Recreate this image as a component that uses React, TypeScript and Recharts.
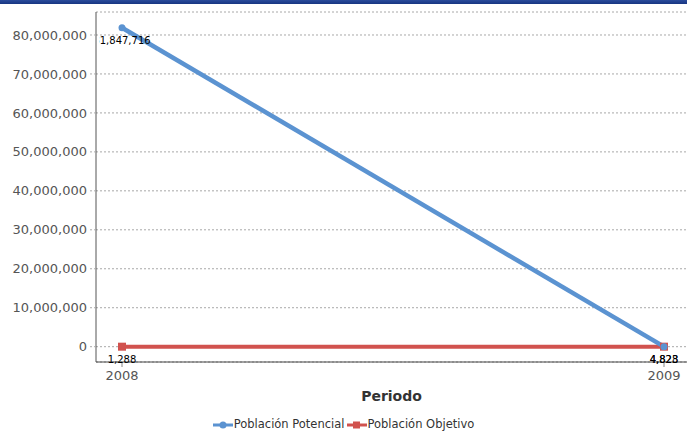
import { LineChart, Line, XAxis, YAxis, CartesianGrid, LabelList } from "recharts";

const periods = ["2008", "2009"];
const poblacionPotencial = [81847716, 4828];
const poblacionObjetivo = [1288, 4823];
const yTicks = [0, 10000000, 20000000, 30000000, 40000000, 50000000, 60000000, 70000000, 80000000];
const seriesNames = ["Población Potencial", "Población Objetivo"];
const seriesColors = ["#5b93d1", "#d1524e"];

const data = periods.map((p, i) => ({
  periodo: p,
  potencial: poblacionPotencial[i],
  objetivo: poblacionObjetivo[i],
}));

const W = 687;
const H = 437;
const PLOT_LEFT = 96;
const PLOT_TOP = 12;
const FONT = "DejaVu Sans, Verdana, sans-serif";

const fmt = (v: number) => v.toLocaleString("en-US");

// labels sit under the point and get clipped at the plot's left edge like the original
const makeLabel = (key: string) => (props: any) => {
  const { x, y, value, index } = props;
  const id = `clip-${key}-${index}`;
  return (
    <g>
      <defs>
        <clipPath id={id}>
          <rect x={PLOT_LEFT + 3} y={0} width={W} height={H} />
        </clipPath>
      </defs>
      <text
        x={x}
        y={y + 16}
        textAnchor="middle"
        fontSize={10}
        fill="#000"
        fontFamily={FONT}
        clipPath={`url(#${id})`}
      >
        {fmt(value)}
      </text>
    </g>
  );
};

const LegendIcon = ({ color, square }: { color: string; square: boolean }) => (
  <svg width={20} height={10} style={{ verticalAlign: "middle", marginRight: 1 }}>
    <line x1={0} y1={5} x2={20} y2={5} stroke={color} strokeWidth={3} />
    {square ? (
      <rect x={6} y={1.5} width={7} height={7} fill={color} />
    ) : (
      <circle cx={10} cy={5} r={3.5} fill={color} />
    )}
  </svg>
);

export default function App() {
  return (
    <div style={{ position: "absolute", left: 0, top: 0, width: W, height: H, background: "#fff", fontFamily: FONT }}>
      <div
        style={{
          position: "absolute",
          left: 0,
          top: 0,
          width: W,
          height: 4,
          background: "linear-gradient(#2b4c9c, #173582)",
        }}
      />
      <LineChart
        width={W}
        height={H}
        data={data}
        margin={{ top: PLOT_TOP, right: 0, left: 0, bottom: 0 }}
        style={{ position: "absolute", left: 0, top: 0 }}
      >
        <CartesianGrid vertical={false} stroke="#a8a8a8" strokeDasharray="2 2" />
        <XAxis
          dataKey="periodo"
          padding={{ left: 26, right: 23 }}
          height={75}
          tickSize={5}
          tickMargin={4}
          axisLine={{ stroke: "#444", strokeWidth: 1 }}
          tickLine={{ stroke: "#888" }}
          tick={{ fill: "#555", fontSize: 13, fontFamily: FONT }}
          label={{
            value: "Periodo",
            position: "insideTop",
            offset: 29,
            fill: "#333",
            fontSize: 14,
            fontWeight: "bold",
            fontFamily: FONT,
          }}
        />
        <XAxis
          xAxisId="top"
          dataKey="periodo"
          orientation="top"
          height={0}
          tick={false}
          tickLine={false}
          axisLine={{ stroke: "#999", strokeWidth: 1.5 }}
        />
        <YAxis
          width={PLOT_LEFT}
          domain={[-3930000, 85900000]}
          ticks={yTicks}
          allowDataOverflow
          interval={0}
          tickFormatter={fmt}
          tickSize={6}
          tickMargin={3}
          axisLine={{ stroke: "#555" }}
          tickLine={{ stroke: "#aaa", strokeDasharray: "2 2" }}
          tick={{ fill: "#555", fontSize: 13, fontFamily: FONT }}
        />
        <Line
          dataKey="objetivo"
          name={seriesNames[1]}
          stroke={seriesColors[1]}
          strokeWidth={4}
          isAnimationActive={false}
          dot={(p: any) => (
            <rect key={`o${p.index}`} x={p.cx - 4} y={p.cy - 4} width={8} height={8} fill={seriesColors[1]} />
          )}
        >
          <LabelList dataKey="objetivo" content={makeLabel("objetivo")} />
        </Line>
        <Line
          dataKey="potencial"
          name={seriesNames[0]}
          stroke={seriesColors[0]}
          strokeWidth={4.5}
          isAnimationActive={false}
          dot={{ r: 3.5, fill: seriesColors[0], stroke: seriesColors[0], strokeWidth: 0 }}
        >
          <LabelList dataKey="potencial" content={makeLabel("potencial")} />
        </Line>
      </LineChart>
      <div
        style={{
          position: "absolute",
          left: 0,
          top: 417,
          width: W,
          textAlign: "center",
          fontSize: 11.5,
          color: "#333",
          whiteSpace: "nowrap",
        }}
      >
        {seriesNames.map((n, i) => (
          <span key={n} style={{ marginRight: i === 0 ? 2 : 0 }}>
            <LegendIcon color={seriesColors[i]} square={i === 1} />
            {n}
          </span>
        ))}
      </div>
    </div>
  );
}
